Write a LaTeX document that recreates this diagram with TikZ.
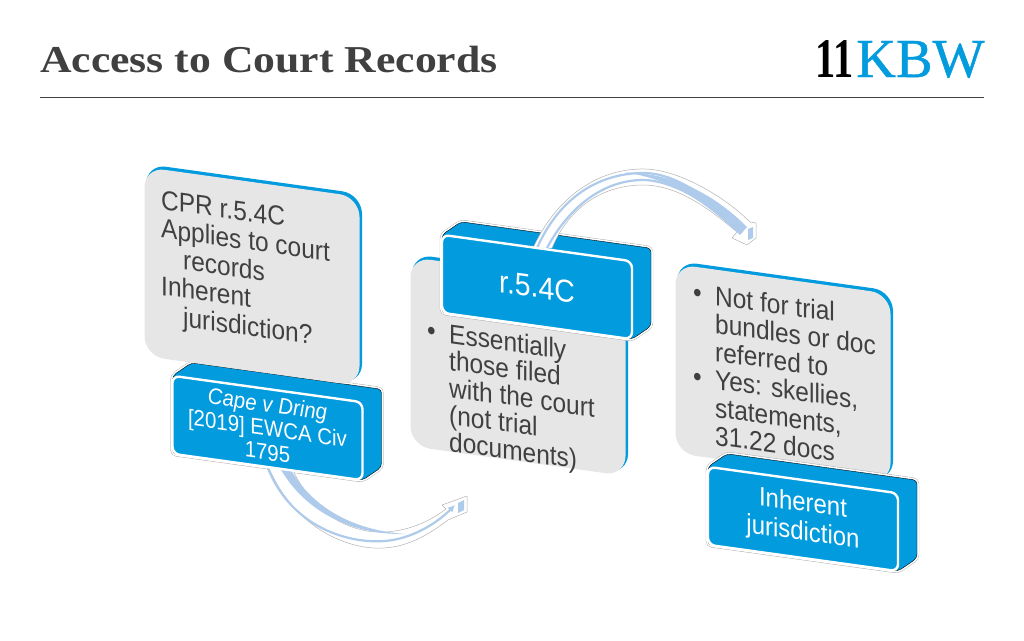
\documentclass[tikz,border=0pt]{standalone}
\usepackage{fontspec}
\setmainfont[FakeStretch=0.9]{Liberation Sans}
\newfontfamily\titlefont[FakeStretch=1.15]{Liberation Serif}
\newfontfamily\logofont[FakeBold=0.8]{Liberation Serif}
\newfontfamily\logoonefont[FakeStretch=0.72]{Liberation Serif}
\usepackage{xcolor}
\usetikzlibrary{positioning,calc,arrows.meta}
\definecolor{kbwblue}{HTML}{019BDE}
\definecolor{panelgrey}{HTML}{E6E6E6}
\definecolor{inkgrey}{HTML}{404040}
\definecolor{curveblue}{HTML}{AECBEC}
\pgfdeclarelayer{greylayer}
\pgfdeclarelayer{blocklayer}
\pgfsetlayers{greylayer,blocklayer,main}
\tikzset{
    panelback/.style={fill=kbwblue, rounded corners=20pt, minimum width=216pt, minimum height=190pt, inner sep=0pt, outer sep=0pt, yslant=-0.139},
    panelface/.style={panelback, fill=panelgrey, minimum width=215pt, minimum height=189pt},
    paneltext/.style={text=inkgrey, inner sep=0pt, anchor=north west, align=left, yslant=-0.139, font=\fontsize{27.2}{#1}\selectfont},
    blockface/.style={fill=kbwblue, draw=white, line width=2.4pt, rounded corners=7pt, minimum width=190pt, minimum height=78pt, inner sep=0pt, outer sep=0pt, text=white, align=center, yslant=-0.139},
    blockback/.style={fill=kbwblue, line join=round, rounded corners=4pt,
        preaction={draw=black!35, line width=4.4pt}, preaction={draw=white, line width=3.6pt}},
    curvehalo/.style={fill=white, draw=black!30, line width=0.5pt, line join=round},
    curvefill/.style={fill=curveblue},
    curveline/.style={draw=curveblue, line width=2.2pt},
    curvestripe/.style={curveline, -{Latex[length=7pt,width=7pt]}},
}
\begin{document}
\begin{tikzpicture}[x=1pt,y=-1pt]
    \useasboundingbox (0,0) rectangle (1024,640);

    % Heading
    \node[anchor=base west, inner sep=0pt, text=inkgrey, font=\titlefont\bfseries\fontsize{38}{38}\selectfont] (title) at (40,72) {Access to Court Records};
    \node[anchor=base west, inner sep=0pt, text=black, font=\logoonefont\bfseries\fontsize{56}{56}\selectfont] (logoone) at (815,77) {11};
    \node[anchor=base west, inner sep=0pt, text=kbwblue, font=\logofont\fontsize{55}{55}\selectfont] (logokbw) at (856,77) {KBW};
    \coordinate (ruleleft) at (40,97);
    \coordinate (ruleright) at (984,97);
    \draw[inkgrey, line width=0.8pt] (ruleleft) -- (ruleright);

    % First pair
    \node[blockface, font=\fontsize{22.7}{24}\selectfont] (capeblock) at (267.5,428) {\textit{Cape v Dring}\\{}[2019] EWCA Civ\\1795};
    \begin{pgfonlayer}{blocklayer}
        \draw[blockback] (capeblock.north west) -- ($(capeblock.north west)+(19,-13)$) -- ($(capeblock.north east)+(19,-13)$) -- ($(capeblock.south east)+(19,-13)$) -- (capeblock.south east) -- (capeblock.south west) -- cycle;
    \end{pgfonlayer}
    \node[panelback] (cprback) at (254,274) {};
    \node[panelface] (cprpanel) at (252,276.5) {};
    \node[paneltext=28.6] (cprtext) at (161,190) {CPR r.5.4C\\Applies to court\\\hspace{22pt}records\\Inherent\\\hspace{22pt}jurisdiction?};

    % Second pair
    \node[blockface, font=\fontsize{31.5}{32}\selectfont] (ruleblock) at (537,287) {r.5.4C};
    \begin{pgfonlayer}{blocklayer}
        \draw[blockback] (ruleblock.north west) -- ($(ruleblock.north west)+(19,-13)$) -- ($(ruleblock.north east)+(19,-13)$) -- ($(ruleblock.south east)+(19,-13)$) -- (ruleblock.south east) -- (ruleblock.south west) -- cycle;
    \end{pgfonlayer}
    \begin{pgfonlayer}{greylayer}
        \node[panelback] (filedback) at (520,364) {};
        \node[panelface] (filedpanel) at (518,366.5) {};
        \node[paneltext=27] (filedtext) at (427,320) {\makebox[22pt][l]{\textbullet}Essentially\\\hspace{22pt}those filed\\\hspace{22pt}with the court\\\hspace{22pt}(not trial\\\hspace{22pt}documents)};
    \end{pgfonlayer}

    % Third pair
    \node[blockface, font=\fontsize{26.6}{29}\selectfont] (inhblock) at (803,519) {Inherent\\jurisdiction};
    \begin{pgfonlayer}{blocklayer}
        \draw[blockback] (inhblock.north west) -- ($(inhblock.north west)+(19,-13)$) -- ($(inhblock.north east)+(19,-13)$) -- ($(inhblock.south east)+(19,-13)$) -- (inhblock.south east) -- (inhblock.south west) -- cycle;
    \end{pgfonlayer}
    \begin{pgfonlayer}{greylayer}
        \node[panelback] (trialback) at (785,371) {};
        \node[panelface] (trialpanel) at (783,373.5) {};
        \node[paneltext=28] (trialtext) at (693,282) {\makebox[22pt][l]{\textbullet}Not for trial\\\hspace{22pt}bundles or doc\\\hspace{22pt}referred to\\\makebox[22pt][l]{\textbullet}Yes: skellies,\\\hspace{22pt}statements,\\\hspace{22pt}31.22 docs};
    \end{pgfonlayer}

    % Lower curved arrow
    \coordinate (lowertip) at (455,505);
    \begin{pgfonlayer}{blocklayer}
        \path[curvehalo] (268,466) .. controls (295,530) and (350,550) .. (383,548) .. controls (410,547) and (432,532) .. (448,520) -- (467,512) -- (467,496) -- (442,505) -- (446,509) .. controls (425,525) and (400,533) .. (377,532) .. controls (340,530) and (308,505) .. (292,468) -- cycle;
        \fill[curvefill] (290,468) .. controls (310,505) and (350,530) .. (405,534) .. controls (352,535) and (305,512) .. (280,468) -- cycle;
        \draw[curvestripe] (capeblock.south) .. controls (290,525) and (345,544) .. (385,541) .. controls (410,539) and (435,525) .. (lowertip);
        \fill[curvefill] (458,503) -- (464,500) -- (464,510) -- (458,513) -- cycle;
    \end{pgfonlayer}

    % Upper curved arrow
    \coordinate (uppertip) at (743,233);
    \coordinate (upperfoot) at (547,248);
    \begin{pgfonlayer}{blocklayer}
        \path[curvehalo] (533,248) .. controls (560,190) and (605,168) .. (645,169) .. controls (680,170) and (725,197) .. (750,222) -- (756,223) -- (756,238) -- (747,245) -- (732,238) -- (737,232) .. controls (705,205) and (675,185) .. (643,185) .. controls (605,185) and (570,205) .. (552,248) -- cycle;
        \draw[curveline] (upperfoot) .. controls (570,205) and (605,180) .. (643,180) .. controls (660,180) and (680,188) .. (700,200);
        \fill[curvefill] (625,172.5) .. controls (680,173) and (720,200) .. (747,227) -- (740,235) .. controls (715,212) and (680,180) .. (625,172.5) -- cycle;
        \draw[curvestripe] (ruleblock.north) .. controls (562,192) and (605,172.5) .. (645,173) .. controls (680,174) and (715,203) .. (uppertip);
        \fill[curvefill] (748,229) -- (753,227) -- (753,238) -- (748,240) -- cycle;
    \end{pgfonlayer}
\end{tikzpicture}
\end{document}
